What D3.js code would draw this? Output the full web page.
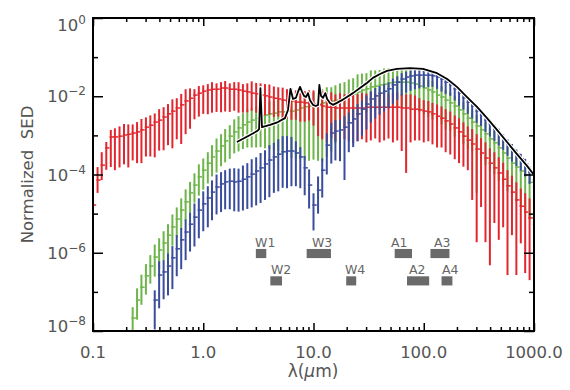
<!DOCTYPE html>
<html><head><meta charset="utf-8">
<script src="https://cdn.jsdelivr.net/npm/d3@7"></script>
<style>body{margin:0;background:#fff}svg{display:block}</style>
</head><body><svg id="c" width="570" height="390"></svg>
<script>
// wavelength grid (micron)
const wavelengths = [0.1,0.11,0.12,0.132,0.145,0.158,0.174,0.191,0.209,0.229,0.251,0.275,0.302,0.331,0.363,0.398,0.437,0.479,0.525,0.575,0.631,0.692,0.759,0.832,0.912,
1,1.1,1.2,1.32,1.45,1.58,1.74,1.91,2.09,2.29,2.51,2.75,3.02,3.31,3.63,3.98,4.37,4.79,5.25,5.75,6.31,6.92,7.59,8.32,9.12,
10,11,12,13.2,14.5,15.8,17.4,19.1,20.9,22.9,25.1,27.5,30.2,33.1,36.3,39.8,43.7,47.9,52.5,57.5,63.1,69.2,75.9,83.2,91.2,
100,110,120,132,145,158,174,191,209,229,251,275,302,331,363,398,437,479,525,575,631,692,759,832,912,1000];

// red series (log10 of normalized SED), starts at index 0
const redLogMed = [-4.78,-4.14,-3.76,-3.32,-3.04,-3.04,-3.02,-2.99,-2.97,-2.94,-2.91,-2.86,-2.79,-2.74,-2.66,-2.61,-2.53,-2.45,-2.38,-2.30,-2.22,-2.12,-2.05,-1.97,-1.92,
-1.87,-1.84,-1.82,-1.82,-1.79,-1.79,-1.82,-1.82,-1.84,-1.87,-1.89,-1.92,-1.94,-1.97,-1.99,-2.02,-2.05,-2.07,-2.10,-2.12,-2.12,-2.15,-2.15,-2.17,-2.17,
-2.20,-2.22,-2.25,-2.28,-2.28,-2.30,-2.30,-2.30,-2.30,-2.30,-2.30,-2.30,-2.28,-2.28,-2.28,-2.28,-2.28,-2.28,-2.28,-2.28,-2.30,-2.30,-2.33,-2.33,-2.35,
-2.38,-2.40,-2.45,-2.51,-2.56,-2.63,-2.71,-2.81,-2.91,-3.02,-3.12,-3.22,-3.35,-3.45,-3.58,-3.71,-3.83,-3.96,-4.12,-4.29,-4.45,-4.65,-4.81,-4.96,-5.11,-5.27];
const redErrUp = [0.60,0.33,0.33,0.15,0.18,
0.22,0.25,0.28,0.25,0.22,0.25,0.28,0.25,0.25,0.22,0.28,0.25,0.25,0.30,0.25,0.28,0.30,0.25,
0.15,0.18,0.15,0.15,0.18,0.15,0.15,0.18,0.15,0.18,0.20,0.18,0.22,
0.30,0.28,0.30,0.30,0.32,0.30,0.30,0.32,0.30,0.32,0.30,0.32,0.30,0.32,0.35,
0.35,0.38,0.35,0.38,0.35,0.38,0.35,0.38,0.36,0.35,0.38,0.35,0.38,0.35,0.36,0.38,0.35,0.35,0.38,0.35,0.35,0.38,0.35,0.30,0.28,
0.28,0.28,0.30,0.30,0.30,0.32,0.32,0.35,0.35,
0.35,0.38,0.38,0.38,0.40,0.38,0.40,0.40,0.42,0.40,0.42,0.45,0.45,0.48,0.50,0.50];
const redErrDn = [0.59,0.33,0.38,0.56,0.77,
0.85,0.80,0.75,0.85,0.70,0.80,0.85,0.75,0.80,0.90,0.78,0.85,0.80,0.95,0.80,1.00,0.85,0.78,
0.62,0.60,0.58,0.62,0.60,0.58,0.62,0.60,0.58,0.55,0.58,0.55,0.52,
0.45,0.48,0.45,0.50,0.45,0.48,0.45,0.50,0.45,0.48,0.45,0.50,0.48,0.45,0.55,
0.80,0.85,0.90,0.80,0.85,0.90,0.80,0.85,0.90,0.85,0.80,0.90,0.85,0.80,0.90,0.85,0.80,0.90,0.85,1.10,1.66,0.85,0.80,0.78,0.80,
0.75,0.78,0.80,0.75,0.80,0.78,0.80,0.80,0.78,
0.77,1.43,2.38,1.38,2.15,2.61,1.41,1.71,1.23,2.28,1.10,1.92,0.95,1.56,1.59,1.74];

// green series, starts at index 9
const greenFrom = 9;
const greenLogMed = [-7.67,-7.21,-6.88,-6.59,-6.34,-6.11,-5.93,-5.75,-5.55,-5.34,-5.14,-4.91,-4.70,-4.47,-4.27,-4.06,
-3.89,-3.71,-3.55,-3.40,-3.27,-3.14,-3.02,-2.91,-2.81,-2.73,-2.66,-2.61,-2.56,-2.50,-2.48,-2.45,-2.43,-2.40,-2.40,-2.38,-2.38,-2.35,
-2.30,-2.27,-2.25,-2.22,-2.20,-2.17,-2.15,-2.12,-2.10,-2.07,-2.04,-1.99,-1.94,-1.89,-1.84,-1.81,
-1.76,-1.74,-1.71,-1.69,-1.66,-1.64,-1.64,-1.64,-1.64,-1.66,-1.69,-1.74,-1.79,-1.84,-1.89,-1.97,-2.02,-2.10,-2.17,-2.25,-2.35,-2.45,-2.56,-2.66,-2.76,-2.86,-2.96,-3.09,-3.19,-3.32,-3.45,-3.58,-3.71,-3.81,-3.91,-4.01,-4.20,-4.32];
const greenErrUp = [0.28,0.30,0.32,0.30,0.28,0.32,0.30,0.30,0.28,0.32,0.30,0.30,0.32,0.28,0.30,0.32,0.30,0.28,0.30,0.32,0.30,0.30,0.28,0.32,0.30,0.30,0.32,
0.30,0.30,0.32,0.30,0.32,0.30,0.30,0.32,0.30,0.32,0.30,0.30,0.32,0.35,0.32,0.35,0.35,0.38,0.35,0.38,0.40,
0.40,0.42,0.40,0.45,0.42,0.40,0.42,0.40,0.38,0.40,0.38,0.36,0.38,0.36,0.35,0.32,0.30,0.30,0.28,
0.26,0.28,0.26,0.28,0.26,0.28,0.26,0.28,0.30,0.28,0.30,0.28,0.30,0.30,0.28,0.30,0.30,0.32,0.30,0.32,0.30,0.32,0.32,0.35,0.35];
const greenErrDn = [0.45,0.50,0.45,0.48,0.45,0.50,0.48,0.45,0.50,0.48,0.45,0.50,0.48,0.50,0.45,0.48,0.50,0.52,0.50,0.55,0.52,0.55,0.58,0.55,0.60,0.62,0.65,
0.70,0.75,0.80,0.85,0.90,0.95,1.00,1.10,1.20,1.20,1.25,1.30,1.35,1.40,1.40,1.45,1.50,1.40,1.30,1.10,0.90,
0.75,0.70,0.65,0.62,0.60,0.60,0.58,0.60,0.62,0.60,0.62,0.65,0.62,0.65,0.62,0.65,0.68,0.65,0.68,
0.69,0.70,0.72,0.70,0.75,0.72,0.78,0.75,0.78,0.80,0.75,1.71,0.78,0.80,0.82,0.80,0.85,0.82,0.85,0.85,0.88,0.90,0.92,0.95,0.95];

// blue series, starts at index 14
const blueFrom = 14;
const blueLogMed = [-7.21,-6.57,-6.49,-6.34,-6.13,-5.90,-5.67,-5.47,-5.27,-5.09,-4.91,-4.75,-4.60,-4.45,-4.32,-4.24,-4.19,
-4.17,-4.19,-4.17,-4.12,-4.06,-3.99,-3.91,-3.83,-3.73,-3.63,-3.55,-3.48,-3.42,-3.40,-3.40,-3.45,-3.55,
-3.83,-4.27,-4.78,-4.40,-3.89,
-3.25,-2.94,-2.89,-2.86,-2.79,-2.68,-2.58,-2.45,-2.33,-2.20,
-2.07,-1.99,-1.92,-1.87,-1.81,-1.71,-1.64,-1.56,-1.51,-1.48,-1.46,-1.46,-1.46,
-1.46,-1.48,-1.51,-1.56,-1.64,-1.71,-1.81,-1.92,-2.04,-2.15,-2.25,-2.38,-2.48,-2.61,-2.71,-2.84,-2.96,-3.09,-3.22,-3.35,-3.48,-3.60,-3.73,-3.94,-4.14];
const blueErrUp = [0.25,0.35,0.30,0.32,0.30,0.35,0.30,0.32,0.30,0.35,0.30,0.32,0.30,0.30,0.32,0.30,0.30,
0.32,0.35,0.32,0.35,0.35,0.38,0.35,0.38,0.35,0.38,0.36,0.38,0.40,0.38,0.36,0.30,0.25,
0.30,0.40,0.30,0.35,0.30,
0.30,0.26,0.28,0.26,0.28,0.26,0.25,0.25,0.22,0.22,
0.20,0.20,0.18,0.18,0.16,0.16,0.15,0.15,0.14,0.14,0.13,0.13,0.13,
0.13,0.12,0.12,0.12,0.12,0.12,0.12,0.12,0.12,0.12,0.12,0.12,0.12,0.13,0.12,0.12,0.13,0.12,0.12,0.13,0.12,0.13,0.13,0.14,0.14];
const blueErrDn = [0.75,0.85,0.70,0.75,0.80,0.70,0.75,0.72,0.70,0.75,0.72,0.70,0.75,0.72,0.70,0.72,0.70,
0.72,0.75,0.78,0.80,0.82,0.85,0.88,0.90,0.92,0.95,0.92,0.95,0.92,0.95,0.90,0.85,0.80,
0.70,0.60,0.65,0.60,0.70,
0.75,0.78,0.75,0.80,1.35,0.75,0.72,0.70,0.68,0.65,
0.60,0.58,0.55,0.52,0.50,0.48,0.45,0.42,0.40,0.38,0.36,0.34,0.32,
0.30,0.28,0.30,0.32,0.30,0.28,0.30,0.32,0.30,0.30,0.32,0.30,0.28,0.30,0.32,0.30,0.30,0.28,0.30,0.32,0.30,0.30,0.32,0.30,0.30];

// black template SED
const blackLambda = [2.02,2.66,3.08,3.21,3.30,3.41,4.03,4.76,5.51,5.87,6.18,6.52,6.93,7.23,7.55,7.87,8.20,8.55,8.91,9.29,9.89,10.5,11.0,11.3,11.7,12.2,12.8,13.3,14.1,15.0,16.3,18.1,20.1,22.8,26.4,30.5,34.6,40.1,46.4,57.2,75.0,98.4,132,163,200,247,304,375,462,569,701,865,1000];
const blackLogF = [-3.17,-2.99,-2.89,-2.84,-1.79,-2.79,-2.73,-2.66,-2.56,-2.35,-1.81,-2.07,-2.04,-1.89,-1.76,-1.89,-1.99,-2.02,-1.92,-2.10,-2.22,-2.25,-2.22,-1.71,-1.99,-2.04,-1.92,-2.07,-2.17,-2.22,-2.17,-2.10,-2.02,-1.92,-1.79,-1.66,-1.53,-1.43,-1.35,-1.30,-1.28,-1.30,-1.41,-1.56,-1.76,-2.02,-2.27,-2.56,-2.86,-3.17,-3.48,-3.78,-4.01];

// filter bands
const bandNames = ["W1","W2","W3","W4","A1","A2","A3","A4"];
const bandLo = [3.0,4.06,8.67,19.8,54.5,70.5,115,145];
const bandHi = [3.73,5.18,14.4,24.4,78.2,112,171,182];
const bandTop = [1.25e-6,2.5e-7,1.25e-6,2.5e-7,1.25e-6,2.5e-7,1.25e-6,2.5e-7];
const bandBottom = [7.3e-7,1.46e-7,7.3e-7,1.46e-7,7.3e-7,1.46e-7,7.3e-7,1.46e-7];
const bandLabelX = [2.95,4.11,9.68,19.3,50.5,73.5,124,146.6];

// ticks
const xMajor = [0.1,1,10,100,1000];
const xTickLabels = ["0.1","1.0","10.0","100.0","1000.0"];
const xMinor = [0.2,0.3,0.4,0.5,0.6,0.7,0.8,0.9,2,3,4,5,6,7,8,9,20,30,40,50,60,70,80,90,200,300,400,500,600,700,800,900];
const yMajorExp = [0,-2,-4,-6,-8];
const yMinorExp = [-1,-3,-5,-7];

const colors = {red:"#e2262e", green:"#6db54a", blue:"#3a4c9c"};

const svg = d3.select("#c");
const L=93,R=534,T=18,B=331;
const x = d3.scaleLog().domain([0.1,1000]).range([L,R]);
const y = d3.scaleLog().domain([1e-8,1]).range([B,T]);
const FONT = "DejaVu Sans, sans-serif";
const TXT = "#555";

svg.append("defs").append("clipPath").attr("id","pc")
  .append("rect").attr("x",L).attr("y",T).attr("width",R-L).attr("height",B-T);
const plot = svg.append("g").attr("clip-path","url(#pc)");

function series(med, up, dn, from, color){
  const pts = med.map((m,k)=>({l:wavelengths[from+k], m, u:up[k], d:dn[k]}));
  const g = plot.append("g").attr("stroke",color).attr("fill","none");
  g.selectAll("line.v").data(pts).join("line").attr("class","v")
    .attr("x1",p=>x(p.l)).attr("x2",p=>x(p.l))
    .attr("y1",p=>y(Math.pow(10,p.m+p.u))).attr("y2",p=>y(Math.pow(10,p.m-p.d)))
    .attr("stroke-width",2);
  g.selectAll("line.h").data(pts).join("line").attr("class","h")
    .attr("x1",p=>x(p.l)-1.2).attr("x2",p=>x(p.l)+3.2)
    .attr("y1",p=>y(Math.pow(10,p.m))).attr("y2",p=>y(Math.pow(10,p.m)))
    .attr("stroke-width",1.5);
}
series(greenLogMed, greenErrUp, greenErrDn, greenFrom, colors.green);
series(redLogMed, redErrUp, redErrDn, 0, colors.red);
series(blueLogMed, blueErrUp, blueErrDn, blueFrom, colors.blue);

const line = d3.line().x(d=>x(d[0])).y(d=>y(Math.pow(10,d[1])));
const bl = blackLambda.map((l,k)=>[l,blackLogF[k]]);
plot.append("path").attr("d",line(bl)).attr("fill","none").attr("stroke","#fff").attr("stroke-width",4).attr("stroke-linejoin","round");
plot.append("path").attr("d",line(bl)).attr("fill","none").attr("stroke","#000").attr("stroke-width",1.8).attr("stroke-linejoin","round");

// bands
const bg = svg.append("g");
bandNames.forEach((n,k)=>{
  bg.append("rect").attr("x",x(bandLo[k])).attr("width",x(bandHi[k])-x(bandLo[k]))
    .attr("y",y(bandTop[k])).attr("height",y(bandBottom[k])-y(bandTop[k])).attr("fill","#6a6a6a");
  bg.append("text").attr("x",x(bandLabelX[k])).attr("y",y(bandTop[k])-2)
    .attr("font-family",FONT).attr("font-size",12.5).attr("fill","#666").text(n);
});

// axes
function styleAxis(g){ g.select(".domain").remove(); g.selectAll(".tick line").attr("stroke","#000").attr("stroke-width",1.5); g.selectAll(".tick text").remove(); }
svg.append("g").attr("transform",`translate(0,${B})`).call(d3.axisBottom(x).tickValues(xMajor).tickSize(-8)).call(styleAxis);
svg.append("g").attr("transform",`translate(0,${B})`).call(d3.axisBottom(x).tickValues(xMinor).tickSize(-4)).call(styleAxis);
svg.append("g").attr("transform",`translate(0,${T})`).call(d3.axisTop(x).tickValues(xMajor).tickSize(-8)).call(styleAxis);
svg.append("g").attr("transform",`translate(0,${T})`).call(d3.axisTop(x).tickValues(xMinor).tickSize(-4)).call(styleAxis);
const yMaj = yMajorExp.map(e=>Math.pow(10,e)), yMin = yMinorExp.map(e=>Math.pow(10,e));
svg.append("g").attr("transform",`translate(${L},0)`).call(d3.axisLeft(y).tickValues(yMaj).tickSize(-10)).call(styleAxis);
svg.append("g").attr("transform",`translate(${L},0)`).call(d3.axisLeft(y).tickValues(yMin).tickSize(-5)).call(styleAxis);
svg.append("g").attr("transform",`translate(${R},0)`).call(d3.axisRight(y).tickValues(yMaj).tickSize(-10)).call(styleAxis);
svg.append("g").attr("transform",`translate(${R},0)`).call(d3.axisRight(y).tickValues(yMin).tickSize(-5)).call(styleAxis);
svg.append("rect").attr("x",L).attr("y",T).attr("width",R-L).attr("height",B-T).attr("fill","none").attr("stroke","#000").attr("stroke-width",2);

// x tick labels
xMajor.forEach((v,k)=>{
  svg.append("text").attr("x",x(v)).attr("y",358).attr("text-anchor","middle")
    .attr("font-family",FONT).attr("font-size",16.5).attr("fill",TXT).text(xTickLabels[k]);
});
// y tick labels
yMajorExp.forEach(e=>{
  let base = y(Math.pow(10,e))+6;
  if(e===0) base = 31; if(e===-8) base = 332;
  const t = svg.append("text").attr("x",86).attr("y",base).attr("text-anchor","end")
    .attr("font-family",FONT).attr("font-size",16.5).attr("fill",TXT);
  t.append("tspan").text("10");
  t.append("tspan").attr("dy",-7).attr("font-size",12).text(e===0?"0":"\u2212"+(-e));
});
// axis titles
const xt = svg.append("text").attr("x",313).attr("y",377).attr("text-anchor","middle")
  .attr("font-family",FONT).attr("font-size",17).attr("fill",TXT);
xt.append("tspan").text("\u03bb(");
xt.append("tspan").attr("font-style","italic").text("\u03bc");
xt.append("tspan").text("m)");
svg.append("text").attr("transform","translate(33,174.5) rotate(-90)").attr("text-anchor","middle")
  .attr("font-family",FONT).attr("font-size",16.5).attr("fill",TXT)
  .style("white-space","pre").text("Normalized  SED");
</script></body></html>
